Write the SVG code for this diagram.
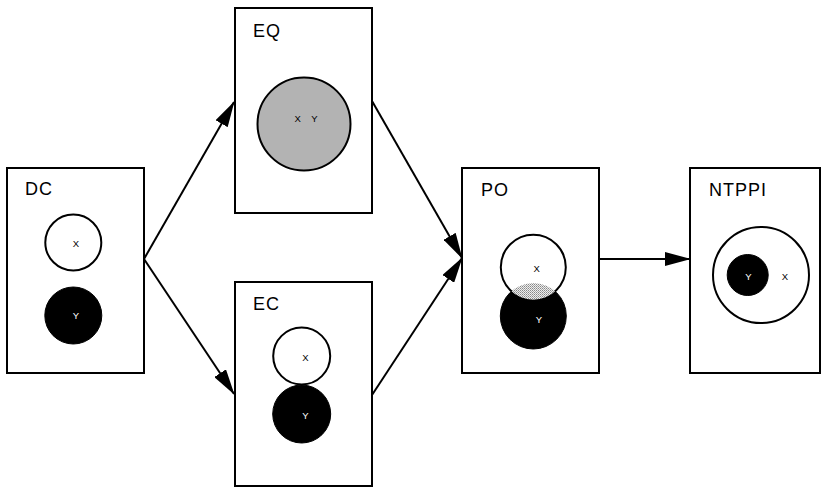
<svg xmlns="http://www.w3.org/2000/svg" width="821" height="487" viewBox="0 0 821 487">
<style>
.box{fill:#fff;stroke:#000;stroke-width:2}
.lbl{font-family:"Liberation Sans",Arial,sans-serif;font-size:18px;letter-spacing:1px;fill:#000}
.sm{font-family:"Liberation Sans",Arial,sans-serif;font-size:9.5px;text-anchor:middle;fill:#000}
.smw{font-family:"Liberation Sans",Arial,sans-serif;font-size:9.5px;text-anchor:middle;fill:#fff}
.cw{fill:#fff;stroke:#000;stroke-width:2}
.cb{fill:#000;stroke:#000;stroke-width:1}
.edge{fill:none;stroke:#000;stroke-width:2;marker-end:url(#ah)}
</style>
<defs>
<marker id="ah" markerUnits="userSpaceOnUse" markerWidth="26" markerHeight="14" refX="25" refY="7" orient="auto">
<path d="M0,0 L26,7 L0,14 z" fill="#000"/>
</marker>
<pattern id="hatch" width="2" height="2" patternUnits="userSpaceOnUse">
<rect width="2" height="2" fill="#eee"/>
<rect width="1" height="1" fill="#888"/>
<rect x="1" y="1" width="1" height="1" fill="#aaa"/>
</pattern>
<clipPath id="lensclip"><circle cx="533.3" cy="267.3" r="32.5"/></clipPath>
</defs>
<g id="connectors">
<line class="edge" x1="144" y1="259" x2="234" y2="102"/>
<line class="edge" x1="144" y1="259" x2="234" y2="394"/>
<line class="edge" x1="372" y1="101" x2="462" y2="258"/>
<line class="edge" x1="372" y1="395" x2="462" y2="258"/>
<line class="edge" x1="599" y1="259" x2="690" y2="259"/>
</g>
<g id="DC">
<rect class="box" x="7" y="168" width="137" height="205"/>
<text class="lbl" x="25" y="195">DC</text>
<circle class="cw" cx="73.3" cy="242.5" r="28"/>
<text class="sm" x="76" y="247">X</text>
<circle class="cb" cx="73.3" cy="315.5" r="28.5"/>
<text class="smw" x="76" y="319">Y</text>
</g>
<g id="EQ">
<rect class="box" x="235" y="8" width="137" height="205"/>
<text class="lbl" x="253" y="37">EQ</text>
<circle cx="304" cy="124" r="46.5" fill="#b3b3b3" stroke="#000" stroke-width="2"/>
<text class="sm" x="297.7" y="121.5">X</text>
<text class="sm" x="314.3" y="121.5">Y</text>
</g>
<g id="EC">
<rect class="box" x="235" y="282" width="137" height="204"/>
<text class="lbl" x="253" y="310">EC</text>
<circle class="cw" cx="301.7" cy="356" r="28.5"/>
<text class="sm" x="305.3" y="360.5">X</text>
<circle class="cb" cx="301.7" cy="414" r="29"/>
<text class="smw" x="305.3" y="418.5">Y</text>
</g>
<g id="PO">
<rect class="box" x="462" y="168" width="137" height="205"/>
<text class="lbl" x="481" y="196">PO</text>
<circle class="cb" cx="533.3" cy="316" r="33"/>
<circle class="cw" cx="533.3" cy="267.3" r="32.5"/>
<circle cx="533.3" cy="316" r="33" fill="url(#hatch)" clip-path="url(#lensclip)"/>
<text class="sm" x="536.7" y="271.5">X</text>
<text class="smw" x="539" y="322.5">Y</text>
</g>
<g id="NTPPI">
<rect class="box" x="690" y="168" width="130" height="205"/>
<text class="lbl" x="709" y="196">NTPPI</text>
<circle class="cw" cx="761" cy="275" r="48"/>
<circle class="cb" cx="747.7" cy="275" r="20.5"/>
<text class="smw" x="748.3" y="279.5">Y</text>
<text class="sm" x="785" y="279.5">X</text>
</g>
</svg>
